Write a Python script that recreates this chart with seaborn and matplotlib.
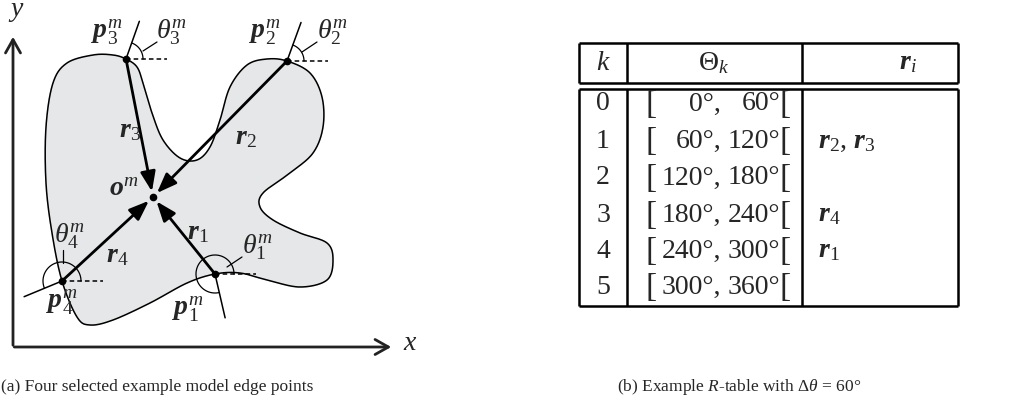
import numpy as np
import matplotlib.pyplot as plt
import seaborn as sns

# ---- data (figure pixel space, y downwards) ----
contour_x = [126, 137, 143, 152, 163, 180, 197, 210, 220, 230, 247, 267, 287, 310, 322, 323,
             313, 290, 263, 260, 273, 300, 327, 333, 327, 300, 267, 240, 215, 187, 150, 113,
             90, 77, 62, 52, 46, 46, 53, 67, 93, 113]
contour_y = [59, 67, 83, 113, 140, 158, 160, 147, 120, 87, 65, 59, 61, 73, 97, 127,
             153, 173, 193, 207, 220, 233, 243, 260, 280, 287, 280, 273, 274, 283, 303, 320,
             325, 317, 281, 233, 183, 127, 83, 63, 55, 55]

point_names = ['1', '2', '3', '4']
point_x = [215, 287, 126, 62]
point_y = [274, 61, 59, 281]
theta_deg = [283, 70, 70.5, 202.5]
normal_len = [45, 41, 40, 41]
arc_r = [19, 17, 17, 19]
origin = (153, 197)

k_vals = ['0', '1', '2', '3', '4', '5']
lo_vals = ['0°,', '60°,', '120°,', '180°,', '240°,', '300°,']
hi_vals = ['60°', '120°', '180°', '240°', '300°', '360°']
r_entries = ['', r'$\mathbfit{r}_2$, $\mathbfit{r}_3$', '', r'$\mathbfit{r}_4$', r'$\mathbfit{r}_1$', '']

sns.set_theme(style='white')
plt.rcParams['font.family'] = ['Liberation Serif', 'DejaVu Serif']
plt.rcParams['mathtext.fontset'] = 'custom'
plt.rcParams['mathtext.rm'] = 'Liberation Serif'
plt.rcParams['mathtext.it'] = 'Liberation Serif:italic'
plt.rcParams['mathtext.bf'] = 'Liberation Serif:bold'
plt.rcParams['mathtext.bfit'] = 'Liberation Serif:bold:italic'


def closed_spline(xs, ys, n=24):
    pts = np.column_stack([xs, ys]).astype(float)
    m = len(pts)
    t = np.linspace(0, 1, n, endpoint=False)[:, None]
    out = []
    for i in range(m):
        p0, p1, p2, p3 = pts[(i - 1) % m], pts[i], pts[(i + 1) % m], pts[(i + 2) % m]
        out.append(0.5 * (2 * p1 + (-p0 + p2) * t + (2 * p0 - 5 * p1 + 4 * p2 - p3) * t ** 2
                          + (-p0 + 3 * p1 - 3 * p2 + p3) * t ** 3))
    out = np.vstack(out)
    return np.vstack([out, out[:1]])


fig = plt.figure(figsize=(10.21, 4.08), dpi=100)
ax = fig.add_axes([0, 0, 1, 1])
ax.set_xlim(0, 1021)
ax.set_ylim(408, 0)
ax.axis('off')

# shape
curve = closed_spline(contour_x, contour_y)
ax.fill(curve[:, 0], curve[:, 1], color='#e6e7e8', zorder=1)
sns.lineplot(x=curve[:, 0], y=curve[:, 1], sort=False, estimator=None, color='black',
             lw=1.1, ax=ax, zorder=2)

# coordinate axes
ax.annotate('', xy=(394, 347), xytext=(11.5, 347),
            arrowprops=dict(arrowstyle='->,head_length=0.8,head_width=0.45', lw=2, color='#222'))
ax.annotate('', xy=(13, 34), xytext=(13, 348),
            arrowprops=dict(arrowstyle='->,head_length=0.8,head_width=0.45', lw=2, color='#222'))
ax.text(410, 344, '$x$', fontsize=20, ha='center', va='center')
ax.text(16, 11, '$y$', fontsize=20, ha='center', va='center')

# normals, arcs, dashed reference, vectors
for px, py, th, ln, rr in zip(point_x, point_y, theta_deg, normal_len, arc_r):
    a = np.deg2rad(th)
    ax.plot([px, px + ln * np.cos(a)], [py, py - ln * np.sin(a)], color='black', lw=1.1, zorder=3)
    ax.plot([px, px + 41], [py, py], color='black', lw=1.1, ls=(0, (3, 2)), zorder=3)
    tt = np.linspace(0, a, 80)
    ax.plot(px + rr * np.cos(tt), py - rr * np.sin(tt), color='black', lw=0.9, zorder=3)
    ax.annotate('', xy=origin, xytext=(px, py),
                arrowprops=dict(arrowstyle='-|>,head_length=1.0,head_width=0.38', lw=2,
                                color='black', shrinkA=0, shrinkB=4), zorder=4)
    ax.plot(px, py, 'o', ms=4.5, color='black', zorder=5)
ax.plot(*origin, 'o', ms=4.5, color='black', zorder=5)

# leader lines for theta labels
for (x0, y0, x1, y1) in [(157, 42, 143, 51), (317, 42, 302, 52), (63, 250, 63, 263), (242, 257, 227, 267)]:
    ax.plot([x0, x1], [y0, y1], color='black', lw=0.9)

fs = 20
label_pos = {
    r'$\mathbfit{p}_3^m$': (91, 32), r'$\mathbfit{p}_2^m$': (249, 32),
    r'$\mathbfit{p}_4^m$': (46, 302), r'$\mathbfit{p}_1^m$': (172, 309),
    r'$\mathbfit{o}^m$': (109, 190),
    r'$\mathbfit{r}_3$': (119, 131), r'$\mathbfit{r}_2$': (235, 138),
    r'$\mathbfit{r}_4$': (106, 256), r'$\mathbfit{r}_1$': (187, 233),
    r'$\theta_3^m$': (156, 32), r'$\theta_2^m$': (317, 32),
    r'$\theta_4^m$': (54, 236), r'$\theta_1^m$': (242, 247),
}
for s, (x, y) in label_pos.items():
    ax.text(x, y, s, fontsize=fs, ha='left', va='center', zorder=6)

# ---- table ----
tl, c1, c2, tr = 579, 627, 802, 958
top, h1, h2, bot = 43, 83, 89, 306
for y in (top, h1, h2, bot):
    ax.plot([tl, tr], [y, y], color='black', lw=1.8, solid_capstyle='butt')
for x in (tl, c1, c2, tr):
    ax.plot([x, x], [top, h1], color='black', lw=1.8, solid_capstyle='butt')
    ax.plot([x, x], [h2, bot], color='black', lw=1.8, solid_capstyle='butt')

ax.text(603, 63, '$k$', fontsize=fs, ha='center', va='center')
ax.text(714, 63, r'$\Theta_k$', fontsize=fs, ha='center', va='center')
ax.text(908, 63, r'$\mathbfit{r}_i$', fontsize=fs, ha='center', va='center')

row_y = [104, 141, 178, 215, 251, 287]
for k, lo, hi, r, y in zip(k_vals, lo_vals, hi_vals, r_entries, row_y):
    ax.text(603, y, k, fontsize=fs, ha='center', va='center')
    ax.text(645, y + 1, '[', fontsize=24, ha='left', va='center')
    ax.text(721, y, lo, fontsize=fs, ha='right', va='center')
    ax.text(780, y, hi, fontsize=fs, ha='right', va='center')
    ax.text(779, y + 1, '[', fontsize=24, ha='left', va='center')
    if r:
        ax.text(818, y, r, fontsize=fs, ha='left', va='center')

# captions
ax.text(1, 387, '(a) Four selected example model edge points', fontsize=12.5, ha='left', va='center')
ax.text(617, 387, r'(b) Example $R$-table with $\Delta\theta$ = 60°', fontsize=12.5, ha='left', va='center')

fig.savefig('out.png', dpi=100)
